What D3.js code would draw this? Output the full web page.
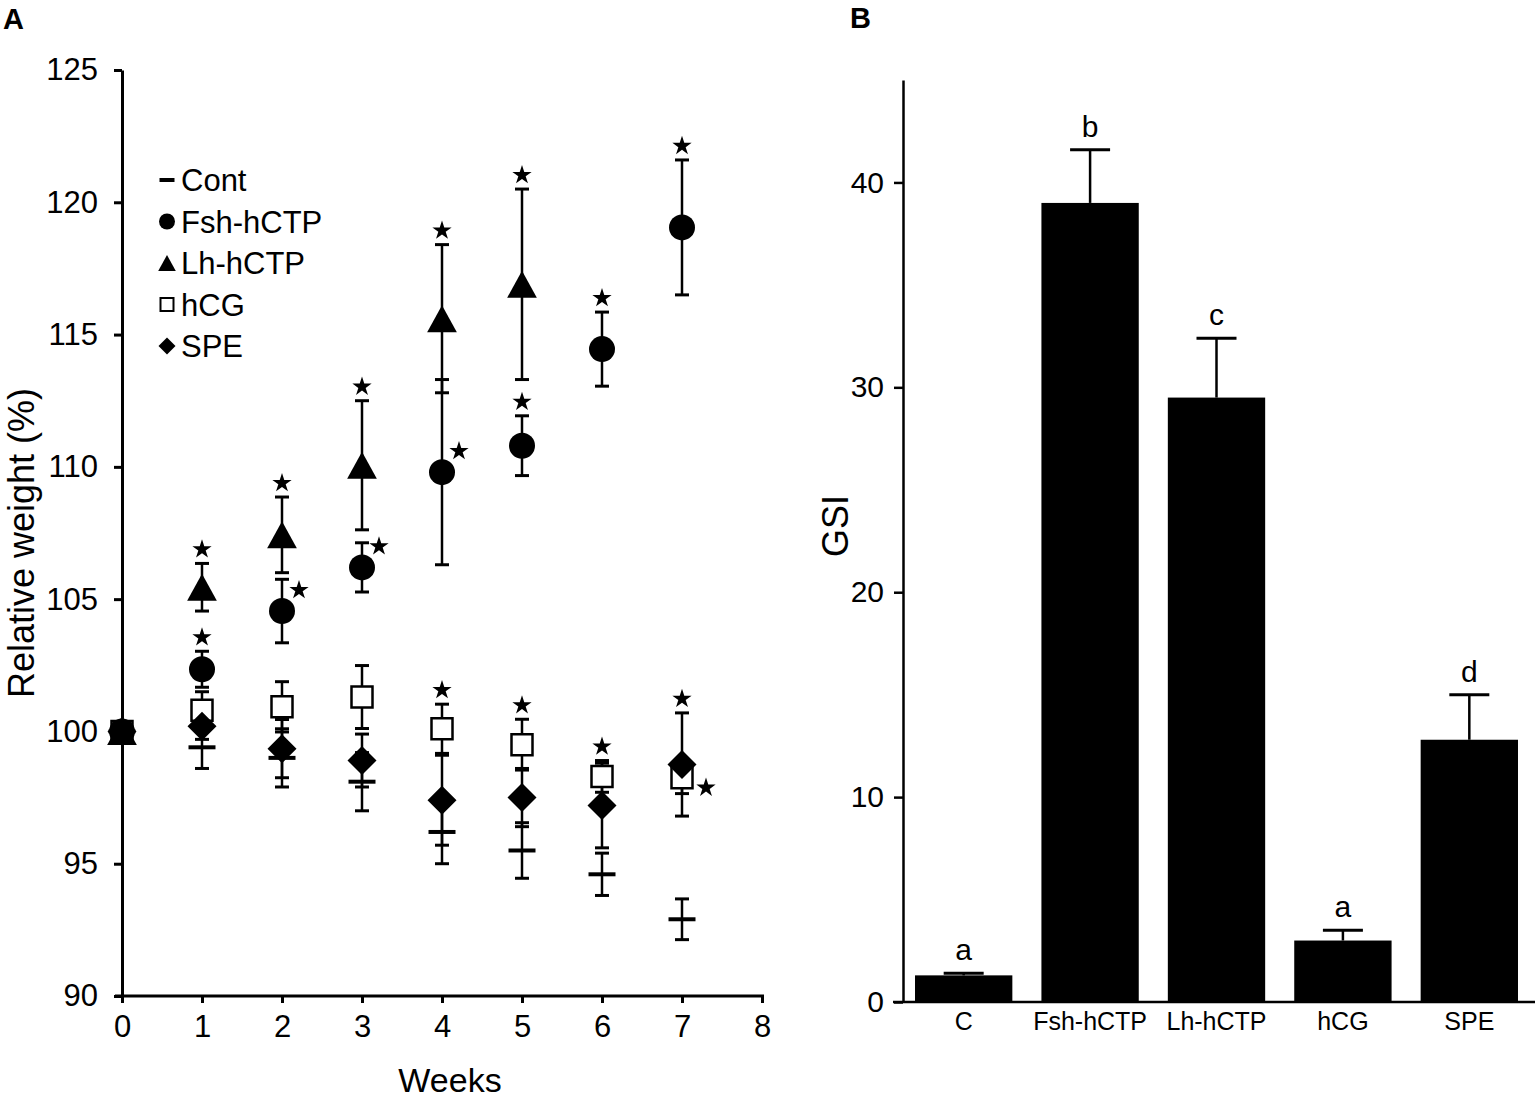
<!DOCTYPE html>
<html>
<head>
<meta charset="utf-8">
<script src="https://cdn.jsdelivr.net/npm/d3@7"></script>
<style>
  body { margin: 0; background: #fff; }
  svg { display: block; font-family: "Liberation Sans", Arial, sans-serif; }
  .axis path, .axis line { stroke: #000; }
  .axis text { fill: #000; font-family: "Liberation Sans", Arial, sans-serif; }
</style>
</head>
<body>
<div id="vis"></div>
<script>
// ---- Panel A data (relative weight %, mean and sem per week) ----
const weeks = [0, 1, 2, 3, 4, 5, 6, 7];
const contMean = [100, 99.4, 99.0, 98.1, 96.2, 95.5, 94.6, 92.9];
const contSem  = [0, 0.8, 1.1, 1.1, 1.2, 1.05, 0.8, 0.77];
const fshMean  = [100, 102.35, 104.55, 106.2, 109.8, 110.8, 114.45, 119.05];
const fshSem   = [0, 0.68, 1.2, 0.93, 3.5, 1.13, 1.4, 2.55];
const lhMean   = [100, 105.45, 107.43, 110.06, 115.6, 116.9];
const lhSem    = [0, 0.9, 1.43, 2.44, 2.8, 3.6];
const hcgMean  = [100, 100.8, 100.93, 101.3, 100.1, 99.5, 98.3, 98.25];
const hcgSem   = [0, 0.7, 0.95, 1.19, 0.93, 0.96, 0.6, 0.6];
const speMean  = [100, 100.2, 99.35, 98.9, 97.4, 97.5, 97.2, 98.75];
const speSem   = [0, 0.5, 1.1, 1.0, 1.7, 1.1, 1.6, 1.95];
// where the significance star goes: "" none, "top" above bar, "right"/"rightlow" beside marker
const fshStar  = ["", "top", "right", "right", "right", "top", "top", "top"];
const lhStar   = ["", "top", "top", "top", "top", "top"];
const hcgStar  = ["", "", "", "", "top", "top", "top", "rightlow"];
const speStar  = ["", "", "", "", "", "", "", "top"];
const contStar = ["", "", "", "", "", "", "", ""];
const xTicksA = [0, 1, 2, 3, 4, 5, 6, 7, 8];
const yTicksA = [90, 95, 100, 105, 110, 115, 120, 125];

// ---- Panel B data (GSI) ----
const groups  = ["C", "Fsh-hCTP", "Lh-hCTP", "hCG", "SPE"];
const gsiMean = [1.3, 39.0, 29.5, 3.0, 12.8];
const gsiSem  = [0.1, 2.6, 2.9, 0.5, 2.2];
const gsiLetters = ["a", "b", "c", "a", "d"];
const yTicksB = [0, 10, 20, 30, 40];

const WIDTH = 1535, HEIGHT = 1099;

const svg = d3.select("#vis").append("svg")
  .attr("width", WIDTH).attr("height", HEIGHT);

// panel letters
svg.append("text").attr("x", 3).attr("y", 29).text("A")
  .style("font-size", "29px").style("font-weight", "bold");
svg.append("text").attr("x", 850).attr("y", 28).text("B")
  .style("font-size", "29px").style("font-weight", "bold");

// ================= Panel A =================
const xA = d3.scaleLinear().domain([0, 8]).range([122, 762]);
const yA = d3.scaleLinear().domain([90, 125]).range([996, 70]);

const axYA = svg.append("g").attr("class", "axis")
  .attr("transform", `translate(${xA(0)},0)`)
  .call(d3.axisLeft(yA).tickValues(yTicksA).tickSize(8).tickSizeOuter(0).tickPadding(16));
axYA.selectAll("path, line").attr("stroke-width", 3);
axYA.selectAll("text").style("font-size", "31px");

const axXA = svg.append("g").attr("class", "axis")
  .attr("transform", `translate(0,${yA(90)})`)
  .call(d3.axisBottom(xA).tickValues(xTicksA).tickSize(7).tickSizeOuter(0).tickPadding(12));
axXA.selectAll("path, line").attr("stroke-width", 3);
axXA.select("path").attr("d", `M${xA(0) - 7},0H${xA(8) + 2}`);
axXA.selectAll("text").style("font-size", "31px");

svg.append("text").attr("x", 450).attr("y", 1092).attr("text-anchor", "middle")
  .style("font-size", "34px").text("Weeks");
svg.append("text").attr("transform", "translate(34,543) rotate(-90)")
  .attr("text-anchor", "middle").style("font-size", "36px").text("Relative weight (%)");

// marker shapes centred on their bounding box
function markerPath(type, s) {
  const p = d3.path();
  if (type === "circle") {
    p.arc(0, 0, s / 2, 0, 2 * Math.PI);
  } else if (type === "triangle") {
    const w = s * 1.1, h = s;
    p.moveTo(0, -h / 2); p.lineTo(w / 2, h / 2); p.lineTo(-w / 2, h / 2); p.closePath();
  } else if (type === "square") {
    p.rect(-s / 2, -s / 2, s, s);
  } else if (type === "diamond") {
    p.moveTo(0, -s / 2); p.lineTo(s / 2, 0); p.lineTo(0, s / 2); p.lineTo(-s / 2, 0); p.closePath();
  } else if (type === "dash") {
    p.rect(-s / 2, -2, s, 4);
  }
  return p.toString();
}

const series = [
  { name: "Cont", mean: contMean, sem: contSem, star: contStar, type: "dash", size: 27, fill: "#000" },
  { name: "hCG", mean: hcgMean, sem: hcgSem, star: hcgStar, type: "square", size: 21, fill: "#fff" },
  { name: "SPE", mean: speMean, sem: speSem, star: speStar, type: "diamond", size: 29, fill: "#000" },
  { name: "Lh-hCTP", mean: lhMean, sem: lhSem, star: lhStar, type: "triangle", size: 27, fill: "#000" },
  { name: "Fsh-hCTP", mean: fshMean, sem: fshSem, star: fshStar, type: "circle", size: 26, fill: "#000" }
];

const points = series.flatMap(s => s.mean.map((m, i) => ({
  s, week: weeks[i], mean: m, sem: s.sem[i], star: s.star[i]
})));

// error bars
const errA = svg.append("g").attr("class", "err-a");
points.filter(d => d.sem > 0).forEach(d => {
  const x = xA(d.week), y0 = yA(d.mean - d.sem), y1 = yA(d.mean + d.sem);
  errA.append("line").attr("x1", x).attr("x2", x).attr("y1", y0).attr("y2", y1)
    .attr("stroke", "#000").attr("stroke-width", 2.5);
  [y0, y1].forEach(yy => errA.append("line")
    .attr("x1", x - 7).attr("x2", x + 7).attr("y1", yy).attr("y2", yy)
    .attr("stroke", "#000").attr("stroke-width", 3));
});

// markers
svg.append("g").attr("class", "markers-a")
  .selectAll("path").data(points).join("path")
  .attr("transform", d => `translate(${xA(d.week)},${yA(d.mean)})`)
  .attr("d", d => markerPath(d.s.type, d.s.size))
  .attr("fill", d => d.s.fill)
  .attr("stroke", "#000")
  .attr("stroke-width", d => d.s.type === "square" ? 2.5 : 0);

// significance stars
const star = d3.symbol().type(d3.symbolStar).size(115);
svg.append("g").attr("class", "stars-a")
  .selectAll("path").data(points.filter(d => d.star !== "")).join("path")
  .attr("transform", d => {
    const x = xA(d.week);
    if (d.star === "top") return `translate(${x},${yA(d.mean + d.sem) - 14})`;
    if (d.star === "right") return `translate(${x + 17},${yA(d.mean) - 21})`;
    return `translate(${x + 24},${yA(d.mean) + 10})`;
  })
  .attr("d", star).attr("fill", "#000");

// legend
const legendOrder = ["Cont", "Fsh-hCTP", "Lh-hCTP", "hCG", "SPE"];
const legendY = d3.scalePoint().domain(legendOrder).range([180, 346]);
const legend = svg.append("g").attr("class", "legend");
legendOrder.forEach(name => {
  const s = series.find(d => d.name === name);
  const ls = { dash: 15, circle: 16, triangle: 16, square: 13, diamond: 17 }[s.type];
  legend.append("path")
    .attr("transform", `translate(167,${legendY(name)})`)
    .attr("d", markerPath(s.type, ls))
    .attr("fill", s.fill).attr("stroke", "#000")
    .attr("stroke-width", s.type === "square" ? 2 : 0);
  legend.append("text").attr("x", 181).attr("y", legendY(name)).attr("dy", "0.36em")
    .style("font-size", "31px").text(name);
});

// ================= Panel B =================
const xB = d3.scaleBand().domain(groups).range([903, 1530]).paddingInner(0.23).paddingOuter(0.095);
const yB = d3.scaleLinear().domain([0, 45]).range([1002, 80]);

const bars = groups.map((g, i) => ({ g, mean: gsiMean[i], sem: gsiSem[i], letter: gsiLetters[i] }));

svg.append("g").attr("class", "bars")
  .selectAll("rect").data(bars).join("rect")
  .attr("x", d => xB(d.g)).attr("width", xB.bandwidth())
  .attr("y", d => yB(d.mean)).attr("height", d => yB(0) - yB(d.mean))
  .attr("fill", "#000");

const errB = svg.append("g").attr("class", "err-b");
bars.forEach(d => {
  const x = xB(d.g) + xB.bandwidth() / 2, yt = yB(d.mean + d.sem);
  errB.append("line").attr("x1", x).attr("x2", x).attr("y1", yB(d.mean)).attr("y2", yt)
    .attr("stroke", "#000").attr("stroke-width", 2.5);
  errB.append("line").attr("x1", x - 20).attr("x2", x + 20).attr("y1", yt).attr("y2", yt)
    .attr("stroke", "#000").attr("stroke-width", 3);
  errB.append("text").attr("x", x).attr("y", yt - 13).attr("text-anchor", "middle")
    .style("font-size", "30px").text(d.letter);
});

const axYB = svg.append("g").attr("class", "axis")
  .attr("transform", `translate(903,0)`)
  .call(d3.axisLeft(yB).tickValues(yTicksB).tickSize(9).tickSizeOuter(0).tickPadding(10));
axYB.selectAll("path, line").attr("stroke-width", 2.5);
axYB.selectAll("text").style("font-size", "30px");

const axXB = svg.append("g").attr("class", "axis")
  .attr("transform", `translate(0,${yB(0)})`)
  .call(d3.axisBottom(xB).tickSize(0).tickPadding(10));
axXB.select("path").attr("d", "M893,0H1535").attr("stroke-width", 2.5);
axXB.selectAll("text").style("font-size", "25px");

svg.append("text").attr("transform", "translate(848,526) rotate(-90)")
  .attr("text-anchor", "middle").style("font-size", "36px").text("GSI");
</script>
</body>
</html>
